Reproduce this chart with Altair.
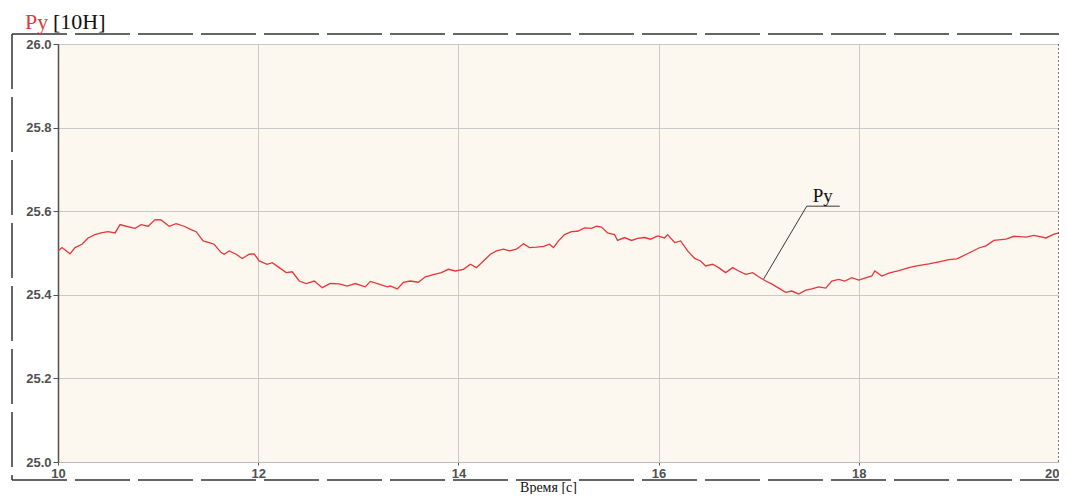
import altair as alt
import pandas as pd

# time [s]
times = [10.00,10.04,10.12,10.17,10.24,10.30,10.37,10.43,10.50,10.57,10.62,10.68,10.77,10.83,10.90,10.97,11.03,11.11,11.18,11.26,11.33,11.38,11.45,11.51,11.56,11.63,11.66,
         11.71,11.78,11.84,11.91,11.96,12.01,12.09,12.14,12.21,12.28,12.34,12.41,12.48,12.56,12.64,12.72,12.81,12.89,12.97,13.07,13.12,13.20,13.29,
         13.32,13.39,13.45,13.52,13.60,13.67,13.75,13.83,13.90,13.97,14.05,14.12,14.18,14.25,14.32,14.38,14.45,14.51,14.58,14.65,14.71,14.78,14.85,14.91,
         14.95,15.00,15.06,15.13,15.19,15.26,15.33,15.38,15.43,15.49,15.56,15.59,15.66,15.73,15.79,15.86,15.92,15.99,16.06,16.09,16.16,16.22,16.29,16.36,16.42,16.47,16.54,
         16.60,16.67,16.74,16.80,16.87,16.94,17.00,17.07,17.13,17.20,17.27,17.33,17.40,17.47,17.53,17.60,17.67,17.73,17.80,17.86,17.93,18.00,18.06,18.13,18.16,18.23,
         18.30,18.40,18.50,18.58,18.70,18.80,18.90,18.98,19.10,19.20,19.27,19.35,19.47,19.55,19.67,19.75,19.87,19.95,20.00]

# Py [10H]
py_values = [25.505,25.513,25.498,25.513,25.521,25.536,25.544,25.548,25.551,25.548,25.568,25.564,25.559,25.568,25.564,25.580,25.579,25.564,25.570,25.564,25.556,25.551,25.529,25.525,25.521,25.501,25.497,
             25.505,25.497,25.487,25.497,25.498,25.481,25.473,25.477,25.465,25.453,25.455,25.433,25.427,25.433,25.417,25.427,25.426,25.421,25.427,25.419,25.432,25.426,25.419,
             25.421,25.414,25.430,25.433,25.430,25.443,25.448,25.453,25.461,25.457,25.461,25.473,25.465,25.481,25.497,25.505,25.509,25.505,25.509,25.522,25.513,25.514,25.516,25.521,
             25.513,25.529,25.544,25.551,25.552,25.560,25.559,25.564,25.562,25.548,25.544,25.530,25.537,25.530,25.535,25.537,25.533,25.541,25.536,25.544,25.525,25.529,25.505,25.487,25.481,25.469,25.473,
             25.465,25.453,25.465,25.457,25.449,25.453,25.443,25.433,25.426,25.416,25.406,25.409,25.402,25.411,25.414,25.419,25.416,25.433,25.437,25.433,25.441,25.435,25.440,25.445,25.457,25.445,
             25.452,25.458,25.465,25.469,25.474,25.479,25.484,25.486,25.500,25.512,25.517,25.530,25.533,25.540,25.538,25.542,25.536,25.545,25.548]

x_ticks = [10, 12, 14, 16, 18, 20]
y_ticks = [25.0, 25.2, 25.4, 25.6, 25.8, 26.0]

# annotation leader (time, value)
leader_t = [17.05, 17.48, 17.81]
leader_v = [25.438, 25.612, 25.612]
label_t = [17.64]
label_v = [25.622]
label_txt = ["Py"]

df = pd.DataFrame({"t": times, "v": py_values})
lead_df = pd.DataFrame({"t": leader_t, "v": leader_v, "o": list(range(len(leader_t)))})
lab_df = pd.DataFrame({"t": label_t, "v": label_v, "s": label_txt})
one = pd.DataFrame({"a": [0]})

W, H = 1001, 418
xs = alt.Scale(domain=[10, 20], nice=False, zero=False)
ys = alt.Scale(domain=[25.0, 26.0], nice=False, zero=False)

x_axis = alt.Axis(values=x_ticks, format="d", grid=True, gridColor="#c9c9c9", gridWidth=1,
                  domainColor="#b8b8b8", tickColor="#555", tickSize=3, labelFlush=False,
                  labelAlign=alt.ExprRef(expr="datum.value >= 20 ? 'right' : 'center'"),
                  labelFont="Liberation Sans", labelFontSize=13, labelColor="#505050",
                  labelFontWeight="bold", labelPadding=2,
                  title="Время [с]", titleFont="Liberation Serif", titleFontSize=14,
                  titleFontWeight="normal", titleColor="#111",
                  titleX=490, titleY=29, titleAlign="center", titleBaseline="alphabetic")
y_axis = alt.Axis(values=y_ticks, format=".1f", grid=True, gridColor="#c9c9c9", gridWidth=1,
                  domainColor="#505050", domainWidth=1.5, tickColor="#505050", tickSize=5,
                  labelFont="Liberation Sans", labelFontSize=13, labelColor="#505050",
                  labelFontWeight="bold", labelPadding=2, labelFlush=False, title=None)

line = alt.Chart(df).mark_line(color="#e8353b", strokeWidth=1.3).encode(
    x=alt.X("t:Q", scale=xs, axis=x_axis),
    y=alt.Y("v:Q", scale=ys, axis=y_axis),
)

right_edge = alt.Chart(one).mark_rule(color="#222", strokeDash=[2, 2], strokeWidth=1.2).encode(
    x=alt.datum(20, scale=xs)
)

leader = alt.Chart(lead_df).mark_line(color="#222", strokeWidth=0.9).encode(
    x=alt.X("t:Q", scale=xs), y=alt.Y("v:Q", scale=ys), order="o:Q"
)
label = alt.Chart(lab_df).mark_text(font="Liberation Serif", fontSize=19, color="#111",
                                    baseline="alphabetic", align="center").encode(
    x=alt.X("t:Q", scale=xs), y=alt.Y("v:Q", scale=ys), text="s:N"
)

frame_style = dict(color="#333", strokeDash=[55, 8], strokeWidth=1.5)
top_f = alt.Chart(one).mark_rule(**frame_style).encode(
    x=alt.value(-46), x2=alt.value(1001), y=alt.value(-10))
left_f = alt.Chart(one).mark_rule(**frame_style).encode(
    x=alt.value(-46), y=alt.value(-10), y2=alt.value(436))
bot_f = alt.Chart(one).mark_rule(**frame_style).encode(
    x=alt.value(-46), x2=alt.value(1001), y=alt.value(436))

t1 = alt.Chart(one).mark_text(font="Liberation Serif", fontSize=22, color="#e0383c",
                              align="left", baseline="alphabetic", text="Py").encode(
    x=alt.value(-33), y=alt.value(-15))
t2 = alt.Chart(one).mark_text(font="Liberation Serif", fontSize=22, color="#111",
                              align="left", baseline="alphabetic", text="[10H]").encode(
    x=alt.value(-5), y=alt.value(-15))

chart = alt.layer(top_f, left_f, bot_f, line, right_edge, leader, label, t1, t2).properties(
    width=W, height=H,
    autosize=alt.AutoSizeParams(type="none"),
    padding={"left": 50, "top": 36, "right": 0, "bottom": 32},
    background="white",
).configure_view(fill="#fdf8ef", stroke=None)

chart.save("out.html", embed_options={"renderer": "svg", "actions": False})
